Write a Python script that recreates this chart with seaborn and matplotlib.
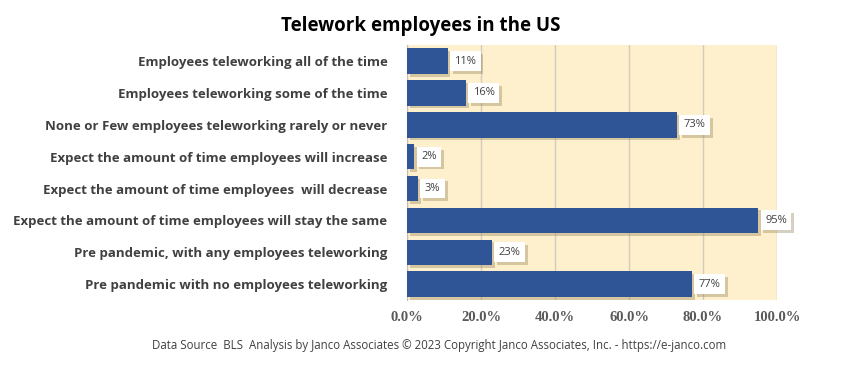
import matplotlib
matplotlib.use("Agg")
import matplotlib.pyplot as plt
import matplotlib.patheffects as pe
from matplotlib.ticker import PercentFormatter
import seaborn as sns
import pandas as pd

categories = [
    "Employees teleworking all of the time",
    "Employees teleworking some of the time",
    "None or Few employees teleworking rarely or never",
    "Expect the amount of time employees will increase",
    "Expect the amount of time employees  will decrease",
    "Expect the amount of time employees will stay the same",
    "Pre pandemic, with any employees teleworking",
    "Pre pandemic with no employees teleworking",
]
values = [11, 16, 73, 2, 3, 95, 23, 77]

df = pd.DataFrame({"category": categories, "value": values})

sns.set_style("white")
plt.rcParams["font.family"] = ["Open Sans", "DejaVu Sans"]

fig = plt.figure(figsize=(8.42, 3.70), dpi=100)
ax = fig.add_axes([0.4834, 0.189, 0.4394, 0.689])
ax.set_facecolor("#FEF0CC")

sns.barplot(data=df, x="value", y="category", color="#2F5597", saturation=1,
            width=0.8, linewidth=0, ax=ax, zorder=3)

shadow = [pe.SimplePatchShadow(offset=(2, -2), shadow_rgbFace="#8a7a50", alpha=0.35),
          pe.Normal()]
for bar in ax.patches:
    bar.set_path_effects(shadow)

for i, v in enumerate(values):
    t = ax.text(v + 1.8, i, f"{v}%", va="center", ha="left", fontsize=8,
                color="#404040", zorder=5,
                bbox=dict(boxstyle="square,pad=0.4", fc="white", ec="none"))
    t.get_bbox_patch().set_path_effects(shadow)

ax.set_xlim(0, 100)
ax.set_xticks([0, 20, 40, 60, 80, 100])
ax.xaxis.set_major_formatter(PercentFormatter(decimals=1))
ax.grid(axis="x", color="#D0CCC0", linewidth=1, zorder=0)
ax.set_axisbelow(True)
for s in ["top", "right", "bottom"]:
    ax.spines[s].set_visible(False)
ax.spines["left"].set_color("#BFBFBF")
ax.set_xlabel("")
ax.set_ylabel("")
ax.tick_params(axis="both", length=0)
for lab in ax.get_xticklabels():
    lab.set_family(["Liberation Serif", "DejaVu Serif"])
    lab.set_fontweight("bold")
    lab.set_fontsize(10.5)
    lab.set_color("#595959")
ax.tick_params(axis="x", pad=8)
for lab in ax.get_yticklabels():
    lab.set_fontweight("bold")
    lab.set_fontsize(9.5)
    lab.set_color("#404040")
ax.tick_params(axis="y", pad=14)

fig.text(0.5, 0.93, "Telework employees in the US", ha="center", va="center",
         fontsize=13.5, fontweight="bold", color="black")
fig.text(0.522, 0.065,
         "Data Source  BLS  Analysis by Janco Associates \u00a9 2023 Copyright Janco Associates, Inc. - https://e-janco.com",
         ha="center", va="center", fontsize=8.3, color="#404040")

fig.savefig("out.png", dpi=100)
